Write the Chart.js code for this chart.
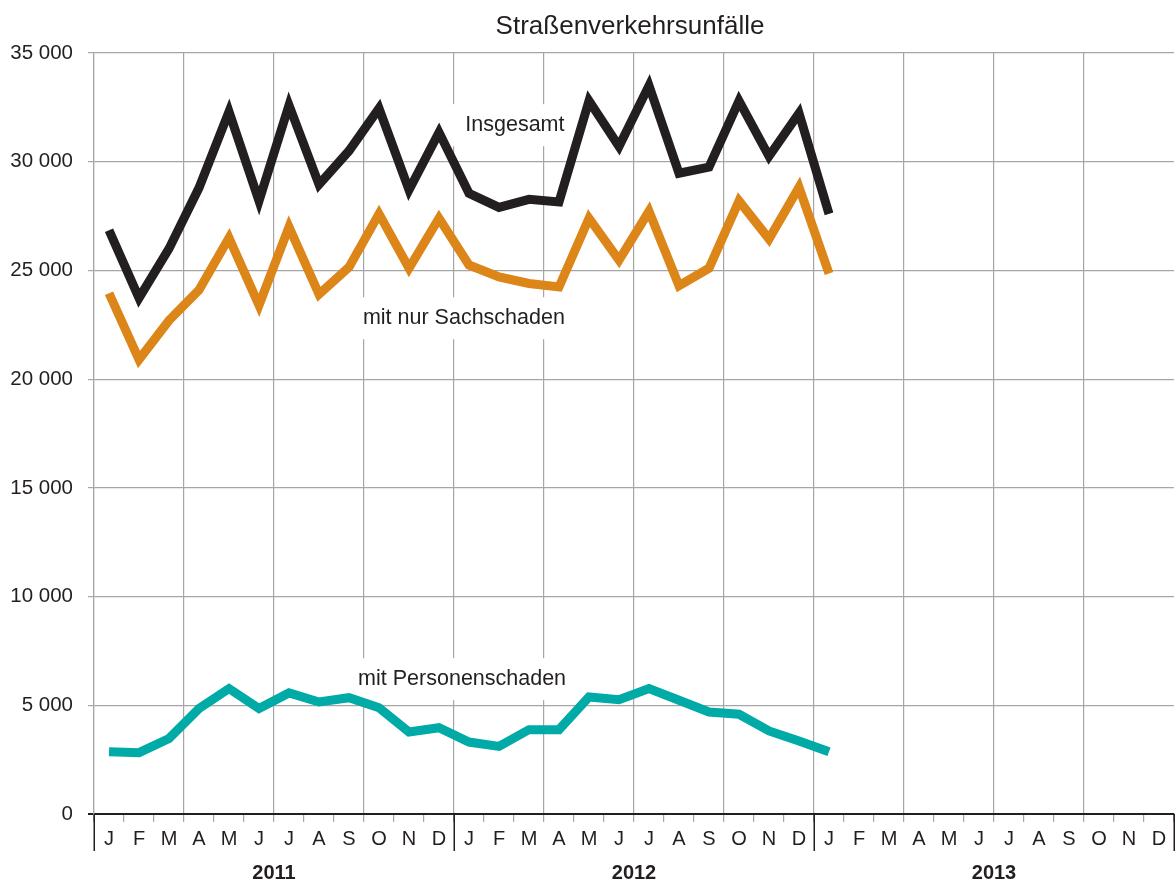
<!DOCTYPE html>
<html>
<head>
<meta charset="utf-8">
<script src="https://cdn.jsdelivr.net/npm/chart.js@4"></script>
<style>
html,body{margin:0;padding:0;background:#fff;}
#wrap{width:1176px;height:884px;}
</style>
</head>
<body>
<div id="wrap"><canvas id="c" width="1176" height="884"></canvas></div>
<script>
// ---- data ----
const months = ['J','F','M','A','M','J','J','A','S','O','N','D',
                'J','F','M','A','M','J','J','A','S','O','N','D',
                'J','F','M','A','M','J','J','A','S','O','N','D'];
const years = ['2011','2012','2013'];
const insgesamt = [26850,23730,26000,28800,32300,28200,32600,28950,30500,32450,28700,31350,
                   28550,27900,28270,28150,32800,30700,33500,29470,29750,32800,30250,32230,
                   27600];
const sachschaden = [23950,20900,22700,24100,26500,23400,27000,23900,25150,27600,25100,27400,
                     25250,24700,24400,24240,27400,25470,27720,24300,25100,28200,26450,28830,
                     24860];
const personenschaden = [2860,2820,3470,4850,5770,4850,5570,5150,5350,4890,3770,3970,
                         3310,3110,3880,3880,5380,5260,5770,5230,4690,4590,3820,3360,
                         2860];
const seriesNames = ['Insgesamt','mit nur Sachschaden','mit Personenschaden'];
const yTicks = [0,5000,10000,15000,20000,25000,30000,35000];
const titleText = 'Straßenverkehrsunfälle';

// ---- styles ----
const FONT = '"Liberation Sans", Arial, Helvetica, sans-serif';
const TXT = '#231f20';
const GRID = '#a6a6a6';

function fmt(v){ return String(v).replace(/\B(?=(\d{3})+(?!\d))/g, ' '); }

// label anchors in data coordinates (category index, value)
const labelAnchors = [
  {text: seriesNames[0], idx: 13.53, val: 31680},
  {text: seriesNames[1], idx: 11.83, val: 22800},
  {text: seriesNames[2], idx: 11.77, val: 6200}
];

const decorPlugin = {
  id: 'decor',
  beforeDatasetsDraw(chart){
    const ctx = chart.ctx, x = chart.scales.x, y = chart.scales.y;
    ctx.save();
    ctx.font = '21.5px ' + FONT;
    ctx.textBaseline = 'middle';
    ctx.textAlign = 'center';
    labelAnchors.forEach(l => {
      const px = x.getPixelForValue(l.idx), py = y.getPixelForValue(l.val);
      const w = ctx.measureText(l.text).width;
      ctx.fillStyle = '#fff';
      ctx.fillRect(px - w/2 - 14, py - 21, w + 28, 42);
      ctx.fillStyle = TXT;
      ctx.fillText(l.text, px, py);
    });
    ctx.restore();
  },
  afterDraw(chart){
    const ctx = chart.ctx, x = chart.scales.x, ca = chart.chartArea;
    ctx.save();
    // title
    ctx.font = '26px ' + FONT;
    ctx.fillStyle = TXT;
    ctx.textAlign = 'center';
    ctx.textBaseline = 'middle';
    ctx.fillText(titleText, (ca.left + ca.right)/2 - 4, 27);
    // year separators
    const per = (x.right - x.left) / months.length;
    ctx.strokeStyle = TXT;
    ctx.lineWidth = 1.5;
    for (let k = 0; k <= years.length; k++) {
      const px = Math.round(x.left + k*12*per) + 0.25;
      ctx.beginPath();
      ctx.moveTo(px, ca.bottom);
      ctx.lineTo(px, ca.bottom + 37);
      ctx.stroke();
    }
    ctx.restore();
  }
};

const mk = (label, data, color) => ({
  label, data, borderColor: color, backgroundColor: color,
  borderWidth: 9, pointRadius: 0, tension: 0, fill: false,
  borderJoinStyle: 'miter', borderCapStyle: 'butt'
});

new Chart(document.getElementById('c'), {
  type: 'line',
  data: {
    labels: months,
    datasets: [
      mk(seriesNames[2], personenschaden, '#00aaa7'),
      mk(seriesNames[1], sachschaden, '#dc8519'),
      mk(seriesNames[0], insgesamt, '#231f20')
    ]
  },
  options: {
    responsive: false,
    animation: false,
    devicePixelRatio: 1,
    layout: {padding: {top: 53, right: 2, left: 0, bottom: 0}},
    plugins: {legend: {display: false}, title: {display: false}, tooltip: {enabled: false}},
    scales: {
      x: {
        type: 'category',
        offset: true,
        afterFit(s){ s.height = 44; },
        grid: {
          offset: true,
          drawTicks: true,
          tickLength: 8,
          color: c => (c.index % 3 === 0) ? GRID : 'rgba(0,0,0,0)',
          tickColor: GRID,
          lineWidth: 1.2
        },
        border: {display: true, color: TXT, width: 2},
        ticks: {
          autoSkip: false, maxRotation: 0, padding: 5,
          color: TXT, font: {family: FONT, size: 20}
        }
      },
      x2: {
        type: 'category',
        position: 'bottom',
        labels: years,
        offset: true,
        afterFit(s){ s.height = 26; },
        grid: {display: false, drawTicks: false},
        border: {display: false},
        ticks: {
          autoSkip: false, maxRotation: 0, padding: 3,
          color: TXT, font: {family: FONT, size: 20, weight: 'bold'}
        }
      },
      y: {
        min: 0, max: 35000,
        afterFit(s){ s.width = 94; },
        afterBuildTicks(s){ s.ticks = yTicks.map(v => ({value: v})); },
        grid: {
          tickLength: 6,
          color: c => (c.tick && c.tick.value === 0) ? TXT : GRID,
          tickColor: c => (c.tick && c.tick.value === 0) ? TXT : GRID,
          lineWidth: c => (c.tick && c.tick.value === 0) ? 2 : 1.2
        },
        border: {display: true, color: GRID, width: 1.2},
        ticks: {
          padding: 15, color: TXT,
          font: {family: FONT, size: 20.5},
          callback: v => fmt(v)
        }
      }
    }
  },
  plugins: [decorPlugin]
});
</script>
</body>
</html>
